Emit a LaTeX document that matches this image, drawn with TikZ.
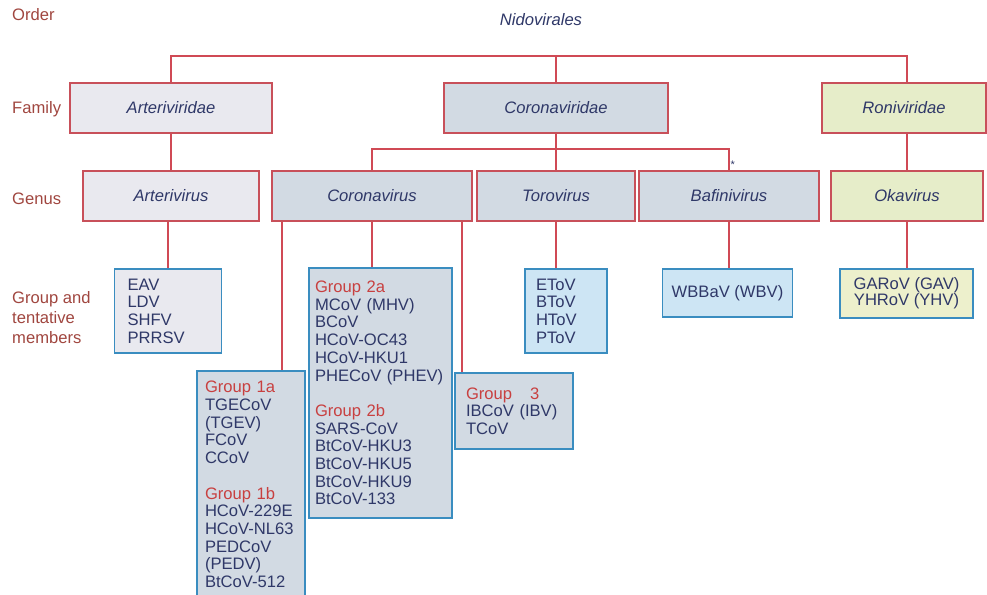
\documentclass[tikz,border=0pt]{standalone}
\usepackage{fontspec}
\setmainfont{Liberation Sans}
\usepackage{tikz}

\definecolor{linered}{HTML}{D04A55}
\definecolor{boxred}{HTML}{C8505A}
\definecolor{memberblue}{HTML}{3A8DC0}
\definecolor{textnavy}{HTML}{2F3868}
\definecolor{grpred}{HTML}{C84040}
\definecolor{rankred}{HTML}{A0463F}
\definecolor{artfill}{HTML}{E9E9EF}
\definecolor{corfill}{HTML}{D2DAE3}
\definecolor{ronfill}{HTML}{E6EDC9}
\definecolor{torfill}{HTML}{CDE5F4}
\definecolor{gavfill}{HTML}{EDF0CC}

\begin{document}
\begin{tikzpicture}[x=1pt,y=-1pt,
    txt/.style={font=\fontsize{16.6}{17.7}\selectfont},
    taxon/.style={draw=boxred, line width=1.2pt, minimum height=50pt, text=textnavy,
      font=\fontsize{16.6}{17.7}\selectfont\itshape},
    member/.style={txt, draw=memberblue, line width=1.4pt, text=textnavy, align=left,
      inner xsep=9pt, inner ysep=0pt},
    rank/.style={txt, text=rankred, anchor=west, inner sep=0pt, align=left},
    link/.style={draw=linered, line width=1.2pt}]
		\useasboundingbox (0,0) rectangle (987,594);

		% Rank labels
		\node[rank] (order) at (12,15) {Order};
		\node[rank] (family) at (12,109) {Family};
		\node[rank] (genus) at (12,199) {Genus};
		\node[rank, font=\fontsize{16.6}{20}\selectfont] (members) at (12,318) {Group and\\tentative\\members};

		% Order
		\node[text=textnavy, font=\fontsize{16.6}{17.7}\selectfont\itshape] (nidovirales) at (541,20) {Nidovirales};

		% Families
		\node[taxon, fill=artfill, minimum width=202pt] (arteriviridae) at (171,108) {Arteriviridae};
		\node[taxon, fill=corfill, minimum width=224pt] (coronaviridae) at (556,108) {Coronaviridae};
		\node[taxon, fill=ronfill, minimum width=164pt] (roniviridae) at (904,108) {Roniviridae};

		% Genera
		\node[taxon, fill=artfill, minimum width=176pt] (arterivirus) at (171,196) {Arterivirus};
		\node[taxon, fill=corfill, minimum width=200pt] (coronavirus) at (372,196) {Coronavirus};
		\node[taxon, fill=corfill, minimum width=158pt] (torovirus) at (556,196) {Torovirus};
		\node[taxon, fill=corfill, minimum width=180pt] (bafinivirus) at (729,196) {Bafinivirus};
		\node[taxon, fill=ronfill, minimum width=152pt] (okavirus) at (907,196) {Okavirus};
		\node[txt, text=textnavy, font=\fontsize{11}{11}\selectfont, anchor=south west, inner sep=1.5pt] (asterisk) at (bafinivirus.north) {*};

		% Group and tentative members
		\node[member, fill=artfill, inner xsep=13pt, text width=81pt, minimum height=84pt] (eav) at (168,311)
			{EAV\\LDV\\SHFV\\PRRSV};
		\node[member, fill=corfill, inner xsep=8pt, text width=92pt, minimum height=227pt] (grp1) at (251,484.5)
			{\textcolor{grpred}{Group 1a}\\TGECoV\\(TGEV)\\FCoV\\CCoV\\[17.7pt]
			 \textcolor{grpred}{Group 1b}\\HCoV-229E\\HCoV-NL63\\PEDCoV\\(PEDV)\\BtCoV-512};
		\node[member, fill=corfill, inner xsep=6pt, text width=131pt, minimum height=250pt] (grp2) at (380.5,393)
			{\textcolor{grpred}{Group 2a}\\MCoV (MHV)\\BCoV\\HCoV-OC43\\HCoV-HKU1\\PHECoV (PHEV)\\[17.7pt]
			 \textcolor{grpred}{Group 2b}\\SARS-CoV\\BtCoV-HKU3\\BtCoV-HKU5\\BtCoV-HKU9\\BtCoV-133};
		\node[member, fill=corfill, inner xsep=11pt, text width=96pt, minimum height=76pt] (grp3) at (514,411)
			{\textcolor{grpred}{Group\hspace{18pt}3}\\IBCoV (IBV)\\TCoV};
		\node[member, fill=torfill, inner xsep=11pt, text width=60pt, minimum height=84pt] (toro) at (566,311)
			{EToV\\BToV\\HToV\\PToV};
		\node[member, fill=torfill, align=center, minimum width=129pt, minimum height=48pt] (wbv) at (727.5,293)
			{WBBaV (WBV)};
		\node[member, fill=gavfill, align=center, minimum width=133pt, minimum height=49pt] (gav) at (906.5,293.5)
			{GARoV (GAV)\\[-1.7pt]YHRoV (YHV)};

		% Order to families
		\coordinate (orderbar) at (0,56);
		\draw[link] (arteriviridae.north) |- (orderbar -| okavirus.north) -- (roniviridae.north -| okavirus.north);
		\draw[link] (coronaviridae.north) -- (coronaviridae.north |- orderbar);

		% Families to genera
		\coordinate (genusbar) at (0,149);
		\draw[link] (arteriviridae.south) -- (arterivirus.north);
		\draw[link] (coronavirus.north) |- (genusbar -| bafinivirus.north) -- (bafinivirus.north);
		\draw[link] (coronaviridae.south) -- (torovirus.north);
		\draw[link] (roniviridae.south -| okavirus.north) -- (okavirus.north);

		% Genera to members
		\draw[link] (eav.north) -- (eav.north |- arterivirus.south);
		\foreach \dx/\grp in {-90/grp1, 0/grp2, 90/grp3}
			\draw[link] ([xshift=\dx pt]coronavirus.south) -- ([xshift=\dx pt]coronavirus.south |- \grp.north);
		\draw[link] (torovirus.south) -- (torovirus.south |- toro.north);
		\draw[link] (bafinivirus.south) -- (bafinivirus.south |- wbv.north);
		\draw[link] (okavirus.south) -- (okavirus.south |- gav.north);
	\end{tikzpicture}
\end{document}
